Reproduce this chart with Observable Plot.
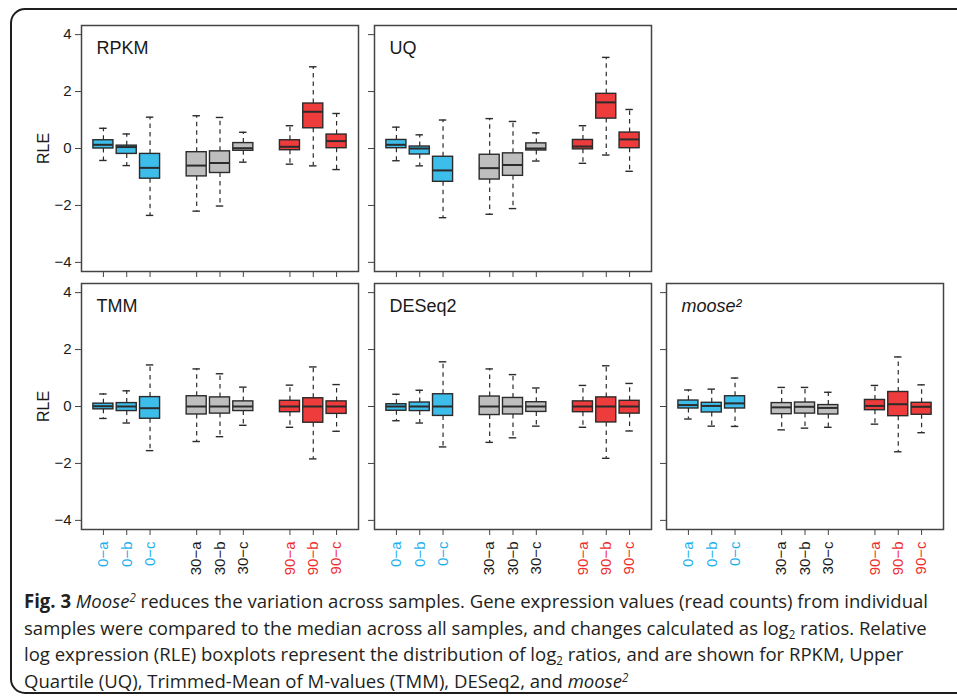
<!DOCTYPE html>
<html><head><meta charset="utf-8">
<script src="https://cdn.jsdelivr.net/npm/d3@7"></script>
<script src="https://cdn.jsdelivr.net/npm/@observablehq/plot@0.6"></script>
<style>
html,body{margin:0;padding:0;background:#fff;overflow:hidden;width:957px;height:700px;}
#fig{position:relative;width:957px;height:700px;font-family:Arial,"Liberation Sans",sans-serif;}
#border{position:absolute;left:10px;top:8px;width:990px;height:686px;border:2px solid #1e1e1e;border-radius:15px;box-sizing:border-box;}
.panel{position:absolute;}
.panel svg{font-family:Arial,"Liberation Sans",Helvetica,sans-serif !important;}
#caption{position:absolute;left:24px;top:588px;font-family:"Open Sans",sans-serif;font-size:19px;line-height:26.5px;color:#231f20;white-space:nowrap;transform-origin:0 0;}
#caption sup,#caption sub{font-size:0.62em;line-height:0;}
#caption sup{vertical-align:0.55em;}
#caption sub{vertical-align:-0.3em;}
</style></head><body><div id="fig"><div id="border"></div>
<div id="caption">
<div id="cap1"><b>Fig. 3</b> <i>Moose<sup>2</sup></i> reduces the variation across samples. Gene expression values (read counts) from individual</div>
<div>samples were compared to the median across all samples, and changes calculated as log<sub>2</sub> ratios. Relative</div>
<div>log expression (RLE) boxplots represent the distribution of log<sub>2</sub> ratios, and are shown for RPKM, Upper</div>
<div>Quartile (UQ), Trimmed-Mean of M-values (TMM), DESeq2, and <i>moose<sup>2</sup></i></div>
</div>
</div>
<script>
// Samples and their group / x positions
const samples = ["0−a","0−b","0−c","30−a","30−b","30−c","90−a","90−b","90−c"];
const positions = [1,2,3,5,6,7,9,10,11];
const groups = ["0","0","0","30","30","30","90","90","90"];
const boxColors = {"0":"#3dbdea","30":"#bebebe","90":"#ee3b3b"};
const labelColors = {"0":"#1cb0ee","30":"#1a1a1a","90":"#ee2c2c"};
const yTicks = [-4,-2,0,2,4];

// five-number summaries per sample: [lower whisker, Q1, median, Q3, upper whisker]
const rpkm = [
  [-0.42, 0.00, 0.13, 0.29, 0.71],
  [-0.60,-0.19, 0.05, 0.10, 0.51],
  [-2.35,-1.06,-0.68,-0.19, 1.10],
  [-2.20,-0.98,-0.60,-0.13, 1.15],
  [-2.02,-0.86,-0.51,-0.10, 1.09],
  [-0.48,-0.08, 0.01, 0.19, 0.57],
  [-0.55,-0.06, 0.06, 0.29, 0.80],
  [-0.61, 0.71, 1.29, 1.58, 2.87],
  [-0.74, 0.01, 0.26, 0.49, 1.23]
];
const uq = [
  [-0.43, 0.01, 0.13, 0.30, 0.75],
  [-0.61,-0.21, 0.00, 0.07, 0.48],
  [-2.43,-1.17,-0.77,-0.29, 1.00],
  [-2.31,-1.09,-0.69,-0.22, 1.05],
  [-2.11,-0.96,-0.58,-0.17, 0.95],
  [-0.44,-0.07, 0.00, 0.18, 0.55],
  [-0.52,-0.03, 0.07, 0.30, 0.80],
  [-0.23, 1.05, 1.62, 1.92, 3.20],
  [-0.80, 0.01, 0.32, 0.56, 1.37]
];
const tmm = [
  [-0.42,-0.10, 0.01, 0.10, 0.44],
  [-0.58,-0.16, 0.00, 0.12, 0.55],
  [-1.55,-0.43,-0.06, 0.33, 1.46],
  [-1.23,-0.28, 0.00, 0.36, 1.32],
  [-1.06,-0.25, 0.00, 0.32, 1.15],
  [-0.66,-0.16, 0.00, 0.18, 0.68],
  [-0.73,-0.20, 0.00, 0.20, 0.75],
  [-1.84,-0.57, 0.00, 0.29, 1.39],
  [-0.87,-0.26, 0.00, 0.18, 0.77]
];
const deseq2 = [
  [-0.50,-0.15, 0.00, 0.08, 0.43],
  [-0.58,-0.16, 0.00, 0.14, 0.57],
  [-1.42,-0.33, 0.00, 0.43, 1.57],
  [-1.26,-0.30, 0.00, 0.35, 1.32],
  [-1.10,-0.28, 0.00, 0.30, 1.12],
  [-0.69,-0.19, 0.00, 0.15, 0.65],
  [-0.73,-0.20, 0.00, 0.18, 0.74],
  [-1.82,-0.56, 0.00, 0.32, 1.43],
  [-0.86,-0.25, 0.00, 0.20, 0.81]
];
const moose2 = [
  [-0.44,-0.07, 0.05, 0.21, 0.58],
  [-0.69,-0.21, 0.02, 0.13, 0.61],
  [-0.70,-0.07, 0.11, 0.36, 1.00],
  [-0.82,-0.27,-0.03, 0.12, 0.67],
  [-0.76,-0.25,-0.01, 0.14, 0.67],
  [-0.73,-0.28,-0.05, 0.05, 0.50],
  [-0.62,-0.13, 0.02, 0.23, 0.74],
  [-1.59,-0.34, 0.08, 0.51, 1.74],
  [-0.92,-0.29,-0.01, 0.13, 0.76]
];

const ML = 80, MR = 10, MT = 10, MB = 72, FW = 277, FH = 246;
const FONT = "Arial, 'Liberation Sans', Helvetica, sans-serif";
const fmtY = d => d < 0 ? "\u2212" + Math.abs(d) : String(d);
const labelOf = p => samples[positions.indexOf(p)];
const groupOf = p => groups[positions.indexOf(p)];

function panel(title, stats, {showY, showX, italic}) {
  const rows = samples.map((s, i) => ({
    s, p: positions[i], g: groups[i],
    lo: stats[i][0], q1: stats[i][1], med: stats[i][2], q3: stats[i][3], hi: stats[i][4]
  }));
  const bw = 0.43, cw = 0.16;
  const ink = "#2b2b2b";
  return Plot.plot({
    width: ML + FW + MR, height: MT + FH + MB,
    marginLeft: ML, marginRight: MR, marginTop: MT, marginBottom: MB,
    style: {background: "transparent", fontFamily: FONT, fontSize: "15px", color: "#1a1a1a", overflow: "visible"},
    x: {domain: [0.06, 11.94]},
    y: {domain: [-4.32, 4.32]},
    color: {type: "identity"},
    marks: [
      Plot.ruleX(rows, {x: "p", y1: "q3", y2: "hi", stroke: ink, strokeWidth: 1.2, strokeDasharray: "4.5,4"}),
      Plot.ruleX(rows, {x: "p", y1: "q1", y2: "lo", stroke: ink, strokeWidth: 1.2, strokeDasharray: "4.5,4"}),
      Plot.ruleY(rows, {y: "hi", x1: d => d.p - cw, x2: d => d.p + cw, stroke: ink, strokeWidth: 1.4}),
      Plot.ruleY(rows, {y: "lo", x1: d => d.p - cw, x2: d => d.p + cw, stroke: ink, strokeWidth: 1.4}),
      Plot.rect(rows, {x1: d => d.p - bw, x2: d => d.p + bw, y1: "q1", y2: "q3", fill: d => boxColors[d.g], stroke: ink, strokeWidth: 1.4}),
      Plot.ruleY(rows, {y: "med", x1: d => d.p - bw, x2: d => d.p + bw, stroke: ink, strokeWidth: 2}),
      Plot.frame({stroke: "#444", strokeWidth: 1.5}),
      // tick marks (labels drawn as text marks below)
      Plot.axisY(yTicks, {tickSize: 6, label: null, stroke: "#444", fill: "none"}),
      Plot.axisX(positions, {tickSize: 6, label: null, stroke: "#444", fill: "none"}),
      showY ? Plot.text(yTicks, {y: d => d, text: fmtY, frameAnchor: "left", dx: -10, textAnchor: "end",
        lineAnchor: "middle", fontSize: 15, fill: "#1a1a1a"}) : null,
      showX ? Plot.text(positions, {x: d => d, text: labelOf, frameAnchor: "bottom", dy: 12, rotate: -90,
        textAnchor: "end", lineAnchor: "middle", fontSize: 15, fill: p => labelColors[groupOf(p)]}) : null,
      Plot.text([title], {text: d => d, frameAnchor: "top-left", dx: 15, dy: 28, lineAnchor: "bottom",
        fontSize: 18, fill: "#1a1a1a", fontStyle: italic ? "italic" : "normal"}),
      showY ? Plot.text(["RLE"], {text: d => d, frameAnchor: "left", dx: -38, rotate: -90, textAnchor: "middle",
        lineAnchor: "middle", fontSize: 16, fill: "#1a1a1a"}) : null
    ]
  });
}

const layout = [
  {title: "RPKM", stats: rpkm, fx: 81, fy: 25, showY: true, showX: false},
  {title: "UQ", stats: uq, fx: 374, fy: 25, showY: false, showX: false},
  {title: "TMM", stats: tmm, fx: 81, fy: 283, showY: true, showX: true},
  {title: "DESeq2", stats: deseq2, fx: 374, fy: 283, showY: false, showX: true},
  {title: "moose\u00b2", stats: moose2, fx: 666, fy: 283, showY: false, showX: true, italic: true}
];
const fig = document.getElementById("fig");
for (const L of layout) {
  const div = document.createElement("div");
  div.className = "panel";
  div.style.left = (L.fx - ML) + "px";
  div.style.top = (L.fy - MT) + "px";
  div.style.width = (ML + FW + MR) + "px";
  div.appendChild(panel(L.title, L.stats, L));
  fig.appendChild(div);
}

// fit caption width to the reference's condensed typeface
const cap = document.getElementById("caption");
const rng = document.createRange();
rng.selectNodeContents(document.getElementById("cap1"));
const tw = rng.getBoundingClientRect().width;
cap.style.transform = `scaleX(${(928 - 24) / tw})`;
</script>
</body></html>
